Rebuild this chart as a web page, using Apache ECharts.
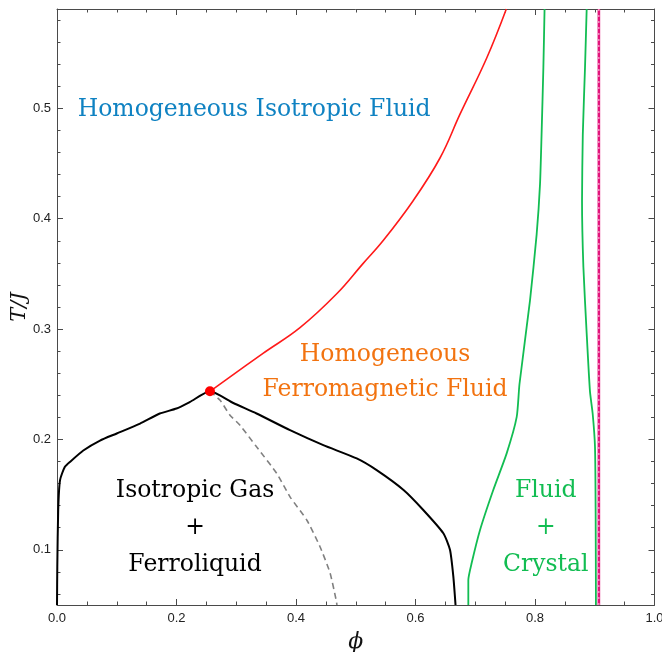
<!DOCTYPE html>
<html>
<head>
<meta charset="utf-8">
<script src="https://cdn.jsdelivr.net/npm/echarts@6/dist/echarts.min.js"></script>
<style>
  html, body { margin: 0; padding: 0; background: #fff; }
  #chart { width: 662px; height: 652px; }
</style>
</head>
<body>
<div id="chart"></div>
<script>
// phase boundaries (phi, T/J)
const blackPhi = [0.0, 0.0005, 0.002, 0.005, 0.013, 0.022, 0.044, 0.072, 0.1, 0.139, 0.172, 0.2, 0.2226, 0.256,
  0.295, 0.334, 0.39, 0.4457, 0.5016, 0.535, 0.58, 0.613, 0.6466, 0.6577, 0.6633, 0.667];
const blackT = [0.05, 0.085, 0.136, 0.163, 0.175, 0.1798, 0.19, 0.199, 0.2054, 0.2144, 0.2235, 0.228, 0.234, 0.2436,
  0.233, 0.2235, 0.2084, 0.1948, 0.1828, 0.1722, 0.1542, 0.1361, 0.115, 0.1, 0.0759, 0.05];

const grayPhi = [0.256, 0.273, 0.2895, 0.306, 0.334, 0.3677, 0.39, 0.418, 0.44, 0.457, 0.467, 0.4686];
const grayT = [0.2436, 0.2355, 0.222, 0.213, 0.1933, 0.1693, 0.148, 0.127, 0.103, 0.079, 0.055, 0.05];

const redPhi = [0.256, 0.3448, 0.4067, 0.4686, 0.5121, 0.5456, 0.5958, 0.641, 0.6745, 0.7192, 0.752];
const redT = [0.2436, 0.278, 0.3013, 0.3322, 0.3593, 0.38, 0.4161, 0.455, 0.4947, 0.5456, 0.59];

const greenLPhi = [0.6884, 0.6884, 0.694, 0.708, 0.73, 0.7526, 0.7694, 0.774, 0.7916, 0.8028, 0.8084, 0.811, 0.814, 0.816];
const greenLT = [0.05, 0.0726, 0.088, 0.118, 0.154, 0.1874, 0.2204, 0.25, 0.3258, 0.3861, 0.4313, 0.4764, 0.5367, 0.59];

const greenRPhi = [0.8865, 0.8837, 0.88, 0.8787, 0.881, 0.8865, 0.892, 0.8965, 0.9004, 0.9015, 0.902];
const greenRT = [0.59, 0.537, 0.4764, 0.416, 0.356, 0.296, 0.2435, 0.2235, 0.1933, 0.133, 0.05];

// close packing line and critical point
const closePackPhi = [0.9069, 0.9069];
const closePackT = [0.05, 0.59];
const critical = [0.256, 0.2436];

// ticks
const xMajor = [0, 0.2, 0.4, 0.6, 0.8, 1.0];
const xMinor = [0.05, 0.1, 0.15, 0.25, 0.3, 0.35, 0.45, 0.5, 0.55, 0.65, 0.7, 0.75, 0.85, 0.9, 0.95];
const yMajor = [0.1, 0.2, 0.3, 0.4, 0.5];
const yMinor = [0.06, 0.08, 0.12, 0.14, 0.16, 0.18, 0.22, 0.24, 0.26, 0.28, 0.32, 0.34, 0.36, 0.38,
  0.42, 0.44, 0.46, 0.48, 0.52, 0.54, 0.56, 0.58];

// region names
const regionNames = [
  "Homogeneous Isotropic Fluid",
  "Homogeneous\nFerromagnetic Fluid",
  "Isotropic Gas\n+\nFerroliquid",
  "Fluid\n+\nCrystal"
];

function pairs(xs, ys) {
  return xs.map((x, i) => [x, ys[i]]);
}

const chart = echarts.init(document.getElementById("chart"));

const frameColor = "#4a4a4a";
const serif = "DejaVu Serif";

function xAx(pos, ticks, len, main) {
  return {
    type: "value", min: 0, max: 1, position: pos,
    axisLine: { show: main, onZero: false, lineStyle: { color: frameColor, width: 1 } },
    axisTick: { show: true, inside: true, length: len, customValues: ticks, lineStyle: { color: frameColor } },
    axisLabel: { show: main && pos === "bottom", customValues: ticks, color: "#222", fontFamily: "Liberation Sans",
      fontSize: 13, margin: 7, formatter: (v) => v.toFixed(1) },
    splitLine: { show: false }
  };
}
function yAx(pos, ticks, len, main) {
  return {
    type: "value", min: 0.05, max: 0.59, position: pos,
    axisLine: { show: main, onZero: false, lineStyle: { color: frameColor, width: 1 } },
    axisTick: { show: true, inside: true, length: len, customValues: ticks, lineStyle: { color: frameColor } },
    axisLabel: { show: main && pos === "left", customValues: ticks, color: "#222", fontFamily: "Liberation Sans",
      fontSize: 13, margin: 6, formatter: (v) => v.toFixed(1) },
    splitLine: { show: false }
  };
}

const xAxes = [xAx("bottom", xMajor, 6, true), xAx("bottom", xMinor, 3.5, false),
  xAx("top", xMajor, 6, true), xAx("top", xMinor, 3.5, false)];
xAxes[0].name = "\u03d5";
xAxes[0].nameLocation = "middle";
xAxes[0].nameGap = 26;
xAxes[0].nameMoveOverlap = false;
xAxes[0].nameTextStyle = { fontFamily: serif, fontStyle: "italic", fontSize: 22, color: "#111" };

const yAxes = [yAx("left", yMajor, 6, true), yAx("left", yMinor, 3.5, false),
  yAx("right", yMajor, 6, true), yAx("right", yMinor, 3.5, false)];
yAxes[0].name = "T/J";
yAxes[0].nameLocation = "middle";
yAxes[0].nameGap = 27;
yAxes[0].nameRotate = 90;
yAxes[0].nameMoveOverlap = false;
yAxes[0].nameTextStyle = { fontFamily: serif, fontStyle: "italic", fontSize: 21, color: "#111" };

function line(name, data, color, width, type, smooth) {
  return {
    name: name, type: "line", data: data, showSymbol: false, symbol: "none",
    smooth: smooth === undefined ? 0.2 : smooth,
    lineStyle: { color: color, width: width, type: type || "solid" }, z: 3
  };
}

const labelAnchors = [[0.33, 0.499], [0.549, 0.2605], [0.231, 0.12], [0.818, 0.12]];
const labelColors = ["#0f82c2", "#f27310", "#000000", "#12bd52"];
const labelLine = [30, 35, 37, 37];

chart.setOption({
  animation: false,
  backgroundColor: "#fff",
  grid: { left: 57, right: 7.5, top: 9, bottom: 47, containLabel: false, outerBoundsMode: "none" },
  xAxis: xAxes,
  yAxis: yAxes,
  series: [
    line("coexistence", pairs(blackPhi, blackT), "#000", 2),
    line("spinodal", pairs(grayPhi, grayT), "#808080", 1.6, [6, 4]),
    line("ferro", pairs(redPhi, redT), "#ff1a1a", 1.6, "solid", 0.4),
    line("freezing", pairs(greenLPhi, greenLT), "#12bd52", 1.8),
    line("melting", pairs(greenRPhi, greenRT), "#12bd52", 1.8),
    line("close packing", pairs(closePackPhi, closePackT), "#e2137a", 2.6, "solid", false),
    Object.assign(line("close packing dash", pairs(closePackPhi, closePackT), "#ffffff", 0.8, [2, 4], false), { z: 4 }),
    {
      name: "critical", type: "scatter", data: [critical], symbolSize: 10,
      itemStyle: { color: "#ff0000", opacity: 1 }, z: 5
    },
    {
      name: "regions", type: "scatter", symbolSize: 0, silent: true, z: 6,
      itemStyle: { opacity: 1 },
      data: regionNames.map((t, i) => ({
        value: labelAnchors[i],
        label: {
          show: true, position: "inside", formatter: t, color: labelColors[i], opacity: 1,
          fontFamily: serif, fontSize: 23.5, lineHeight: labelLine[i], align: "center"
        }
      }))
    }
  ]
});
</script>
</body>
</html>
